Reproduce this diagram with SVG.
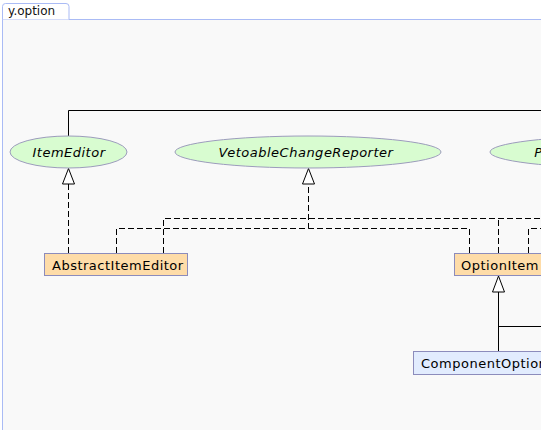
<svg xmlns="http://www.w3.org/2000/svg" width="541" height="430" viewBox="0 0 541 430">
  <style>
    .lbl { font-family: "DejaVu Sans", Verdana, sans-serif; font-size: 13px; letter-spacing: 0.5px; fill: #000; }
    .it { font-style: italic; text-anchor: middle; }
    .iface { fill: #d8fcd0; stroke: #9c9cbc; stroke-width: 1; }
    .cls { fill: #fedca8; stroke: #8c8cbc; stroke-width: 1; }
    .cls2 { fill: #e2ecfe; stroke: #8c8cbc; stroke-width: 1; }
    .dash { fill: none; stroke: #000; stroke-width: 1; stroke-dasharray: 6,3; }
    .solid { fill: none; stroke: #000; stroke-width: 1; }
    .head { fill: #fff; stroke: #000; stroke-width: 1; }
  </style>
  <rect x="0" y="0" width="541" height="430" fill="#ffffff"/>
  <rect x="2.5" y="19.5" width="545" height="420" fill="#f9f9f9" stroke="#aabbf5" stroke-width="1"/>
  <path d="M2.5,19.5 V6.5 Q2.5,3.5 5.5,3.5 H66 Q69,3.5 69,6.5 V19.5" fill="#ffffff" stroke="#aabbf5" stroke-width="1"/>
  <text x="8" y="15" font-family="DejaVu Sans, sans-serif" font-size="12" fill="#111">y.option</text>

  <g id="connectors">
    <path class="solid" d="M68.5,136 V110.5 H545"/>
    <path class="dash" d="M68.5,253 V184"/>
    <path class="dash" d="M116.5,253 V228.5 H308.5 V184"/>
    <path class="dash" d="M469.5,253 V228.5 H308.5"/>
    <path class="dash" d="M163.5,253 V218.5 H545"/>
    <path class="dash" d="M498.5,253 V218.5"/>
    <path class="dash" d="M528.5,253 V228.5 H545"/>
    <path class="solid" d="M498.5,351 V292"/>
    <path class="solid" d="M498.5,326.5 H545"/>
    <polygon class="head" points="68.5,168.5 62.5,184 74.5,184"/>
    <polygon class="head" points="308.5,168.5 302.5,184 314.5,184"/>
    <polygon class="head" points="498.5,276 492.5,292 504.5,292"/>
  </g>

  <g id="ItemEditor">
    <ellipse class="iface" cx="68.5" cy="152" rx="58.5" ry="16"/>
    <text class="lbl it" x="69" y="156.5">ItemEditor</text>
  </g>
  <g id="VetoableChangeReporter">
    <ellipse class="iface" cx="308" cy="152" rx="133" ry="16"/>
    <text class="lbl it" x="306" y="156.5">VetoableChangeReporter</text>
  </g>
  <g id="PropertyChangeReporter">
    <ellipse class="iface" cx="623" cy="152" rx="133" ry="16"/>
    <text class="lbl it" x="621" y="156.5">PropertyChangeReporter</text>
  </g>
  <g id="AbstractItemEditor">
    <rect class="cls" x="44.5" y="253.5" width="143" height="22"/>
    <text class="lbl" x="52" y="270">AbstractItemEditor</text>
  </g>
  <g id="OptionItem">
    <rect class="cls" x="454.5" y="253.5" width="93" height="22"/>
    <text class="lbl" x="461" y="270">OptionItem</text>
  </g>
  <g id="ComponentOptionItem">
    <rect class="cls2" x="413.5" y="351.5" width="160" height="23"/>
    <text class="lbl" x="421" y="368">ComponentOptionItem</text>
  </g>
</svg>
